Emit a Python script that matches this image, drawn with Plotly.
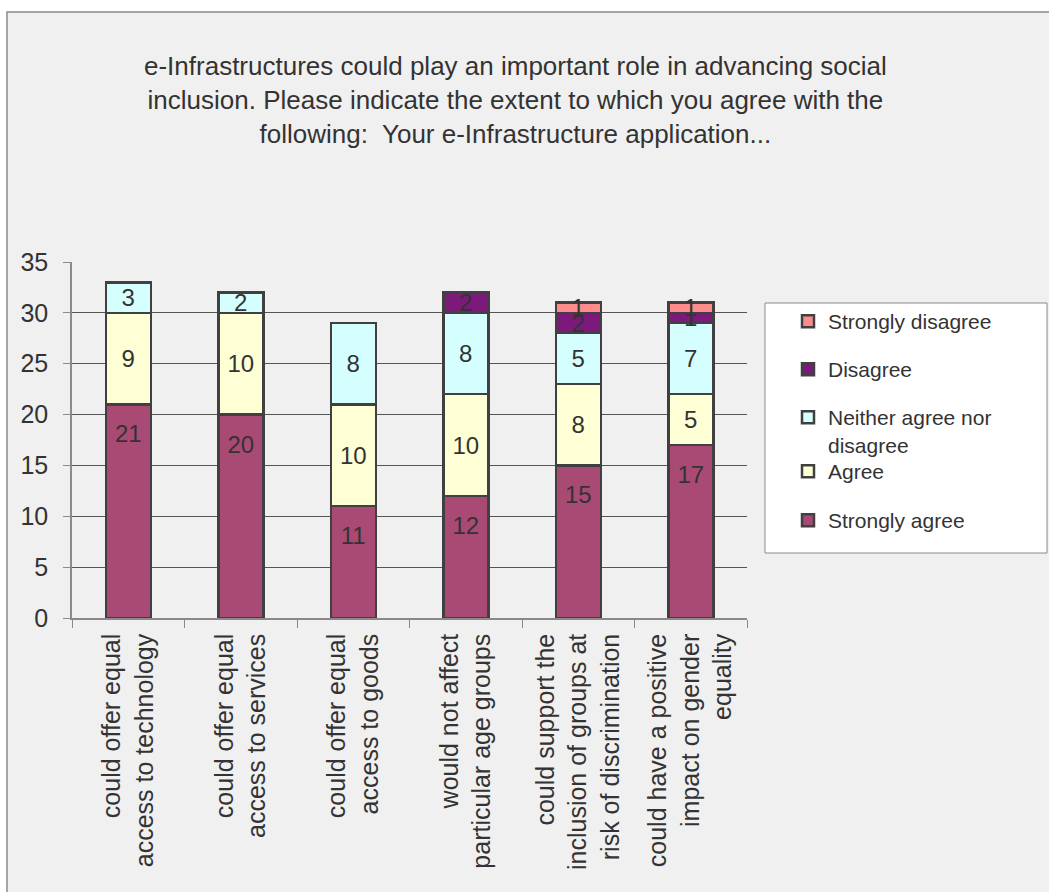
import plotly.graph_objects as go

# Survey categories (axis tick labels)
categories = [
    "could offer equal<br>access to technology",
    "could offer equal<br>access to services",
    "could offer equal<br>access to goods",
    "would not affect<br>particular age groups",
    "could support the<br>inclusion of groups at<br>risk of discrimination",
    "could have a positive<br>impact on gender<br>equality",
]

# Response counts per category
strongly_agree = [21, 20, 11, 12, 15, 17]
agree = [9, 10, 10, 10, 8, 5]
neither = [3, 2, 8, 8, 5, 7]
disagree = [0, 0, 0, 2, 2, 1]
strongly_disagree = [0, 0, 0, 0, 1, 1]

title_text = ("e-Infrastructures could play an important role in advancing social<br>"
              "inclusion. Please indicate the extent to which you agree with the<br>"
              "following:  Your e-Infrastructure application...")

FONT = "Liberation Sans, Arial, sans-serif"
TXT = "#333333"
OUTLINE = "#404040"

W, H = 1049, 892
L, R, T, B = 72, 302, 262, 274
PW, PH = W - L - R, H - T - B


def px_x(p):
    return (p - L) / PW


def px_y(p):
    return (H - B - p) / PH


# name, values, fill colour, legend id, legend entry centre (px)
series = [
    ("Strongly agree", strongly_agree, "#A94A74", "legend5", 519),
    ("Agree", agree, "#FFFFD6", "legend4", 470),
    ("Neither agree nor<br>disagree", neither, "#D5FFFF", "legend3", 416),
    ("Disagree", disagree, "#7B1A7B", "legend2", 368),
    ("Strongly disagree", strongly_disagree, "#FF8C8C", "legend", 320),
]

fig = go.Figure()
legends = {}
for i, (name, vals, color, leg, yc) in enumerate(series):
    fig.add_trace(go.Bar(
        x=categories, y=vals, name=name,
        width=0.4,
        marker=dict(color=color, line=dict(color=OUTLINE, width=2.5)),
        text=["" if (v == 0 or i == 0) else str(v) for v in vals],
        textposition="inside", insidetextanchor="middle",
        textangle=0, constraintext="none",
        textfont=dict(family=FONT, size=24, color=TXT),
        legend=leg,
        hoverinfo="skip",
    ))
    legends[leg] = dict(
        x=px_x(788), xanchor="left", y=px_y(yc - 19), yanchor="top",
        valign="top", bgcolor="rgba(0,0,0,0)", borderwidth=0,
        font=dict(family=FONT, size=21, color=TXT),
    )

# Labels of the bottom segment sit a little below the segment top
fig.add_trace(go.Scatter(
    x=categories, y=[v - 3.15 for v in strongly_agree],
    text=[str(v) for v in strongly_agree], mode="text",
    textfont=dict(family=FONT, size=24, color=TXT),
    showlegend=False, hoverinfo="skip",
))

shapes = [
    # chart area background with its border
    dict(type="rect", xref="paper", yref="paper",
         x0=px_x(7), x1=px_x(1200), y0=px_y(1000), y1=px_y(12),
         fillcolor="#F0F0F0", line=dict(color="#8A8A8A", width=1.5), layer="below"),
    # legend frame
    dict(type="rect", xref="paper", yref="paper",
         x0=px_x(765), x1=px_x(1047), y0=px_y(553), y1=px_y(303),
         fillcolor="white", line=dict(color="#8A8A8A", width=1), layer="below"),
]

fig.update_layout(
    width=W, height=H, autosize=False,
    margin=dict(l=L, r=R, t=T, b=B, pad=0),
    paper_bgcolor="white", plot_bgcolor="rgba(0,0,0,0)",
    barmode="stack",
    font=dict(family=FONT, color=TXT, size=20),
    shapes=shapes,
    showlegend=True,
    annotations=[dict(
        text=title_text, xref="paper", yref="paper",
        x=px_x(515), y=px_y(100), xanchor="center", yanchor="middle",
        showarrow=False, align="center",
        font=dict(family=FONT, size=26, color=TXT),
    )],
    xaxis=dict(
        type="category", showline=True, linecolor="#8A8A8A", linewidth=1.5,
        ticks="outside", tickson="boundaries", ticklen=8, tickcolor="#8A8A8A",
        tickangle=-90, tickfont=dict(family=FONT, size=25, color=TXT),
        ticklabelstandoff=4,
        showgrid=False, zeroline=False,
    ),
    yaxis=dict(
        range=[0, 35], tickvals=[0, 5, 10, 15, 20, 25, 30, 35],
        showline=True, linecolor="#8A8A8A", linewidth=1.5,
        ticks="outside", ticklen=7, tickcolor="#8A8A8A",
        ticklabelstandoff=10,
        showgrid=True, gridcolor="#555555", gridwidth=1,
        zeroline=False,
        tickfont=dict(family=FONT, size=25, color=TXT),
    ),
    **legends,
)

fig.write_html("out.html")
